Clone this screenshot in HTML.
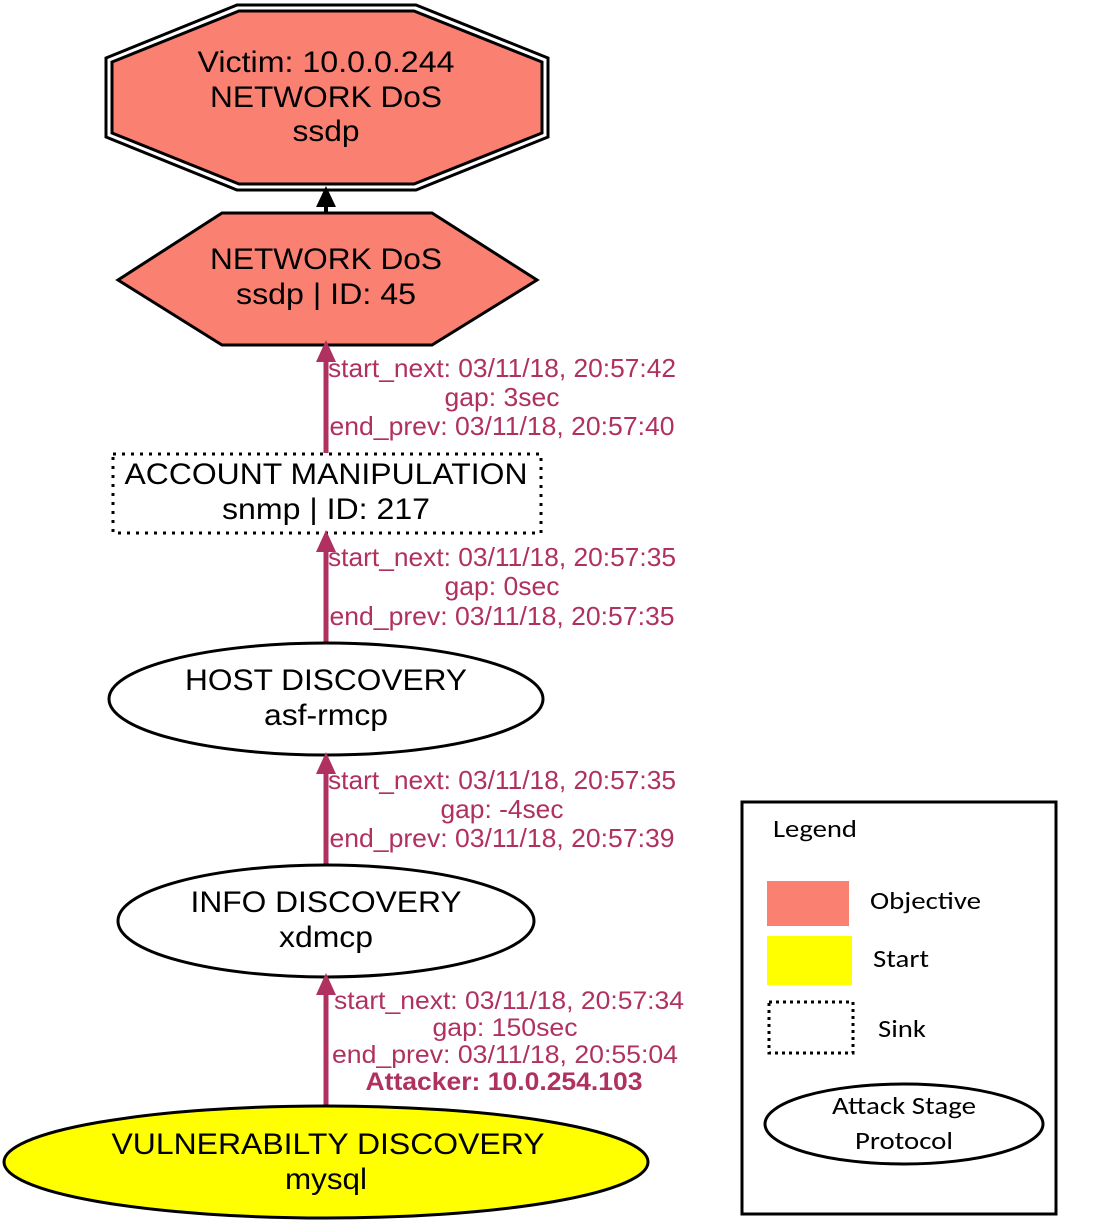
<!DOCTYPE html>
<html><head><meta charset="utf-8"><style>
html,body{margin:0;padding:0;background:#fff;}
svg{display:block;}
.n{font-family:"Liberation Sans",sans-serif;font-size:30px;fill:#000;text-anchor:middle;}
.e{font-family:"Liberation Sans",sans-serif;font-size:26px;fill:#b03060;text-anchor:middle;}
.e2{font-family:"Liberation Sans",sans-serif;font-size:25px;fill:#b03060;text-anchor:middle;}
.l{font-family:"Carlito","Liberation Sans",sans-serif;font-size:25px;fill:#000;}
</style></head><body>
<svg width="1097" height="1226" viewBox="0 0 1097 1226" xmlns="http://www.w3.org/2000/svg">
<polygon points="237,5 416,5 548,58 548,137 416,190 237,190 106,137 106,58" fill="#fff" stroke="#000" stroke-width="3"/>
<polygon points="239,11 414,11 542,62 542,133 414,184 239,184 112,133 112,62" fill="#fa8072" stroke="#000" stroke-width="3"/>
<text class="n" x="326" y="72" textLength="257" lengthAdjust="spacingAndGlyphs">Victim: 10.0.0.244</text>
<text class="n" x="326" y="107" textLength="232" lengthAdjust="spacingAndGlyphs">NETWORK DoS</text>
<text class="n" x="326" y="141" textLength="67" lengthAdjust="spacingAndGlyphs">ssdp</text>
<line x1="326" y1="213" x2="326" y2="200" stroke="#000" stroke-width="4"/>
<polygon points="316,207 336,207 326,186" fill="#000"/>
<polygon points="118,280 222,213 432,213 537,280 432,345 222,345" fill="#fa8072" stroke="#000" stroke-width="3"/>
<text class="n" x="326" y="269" textLength="232" lengthAdjust="spacingAndGlyphs">NETWORK DoS</text>
<text class="n" x="326" y="304" textLength="180" lengthAdjust="spacingAndGlyphs">ssdp | ID: 45</text>
<line x1="326" y1="453" x2="326" y2="355" stroke="#b03060" stroke-width="5"/>
<polygon points="316,362 336,362 326,340" fill="#b03060"/>
<text class="e" x="502" y="377" textLength="348" lengthAdjust="spacingAndGlyphs">start_next: 03/11/18, 20:57:42</text>
<text class="e" x="502" y="406" textLength="115" lengthAdjust="spacingAndGlyphs">gap: 3sec</text>
<text class="e" x="502" y="435" textLength="345" lengthAdjust="spacingAndGlyphs">end_prev: 03/11/18, 20:57:40</text>
<rect x="113" y="454" width="428" height="79" fill="#fff" stroke="#000" stroke-width="3" stroke-dasharray="3,6"/>
<text class="n" x="326" y="484" textLength="403" lengthAdjust="spacingAndGlyphs">ACCOUNT MANIPULATION</text>
<text class="n" x="326" y="519" textLength="208" lengthAdjust="spacingAndGlyphs">snmp | ID: 217</text>
<line x1="326" y1="642" x2="326" y2="545" stroke="#b03060" stroke-width="5"/>
<polygon points="316,552 336,552 326,530" fill="#b03060"/>
<text class="e" x="502" y="566" textLength="348" lengthAdjust="spacingAndGlyphs">start_next: 03/11/18, 20:57:35</text>
<text class="e" x="502" y="595" textLength="115" lengthAdjust="spacingAndGlyphs">gap: 0sec</text>
<text class="e" x="502" y="625" textLength="345" lengthAdjust="spacingAndGlyphs">end_prev: 03/11/18, 20:57:35</text>
<ellipse cx="326" cy="699" rx="217" ry="56" fill="#fff" stroke="#000" stroke-width="3"/>
<text class="n" x="326" y="690" textLength="282" lengthAdjust="spacingAndGlyphs">HOST DISCOVERY</text>
<text class="n" x="326" y="725" textLength="124" lengthAdjust="spacingAndGlyphs">asf-rmcp</text>
<line x1="326" y1="866" x2="326" y2="767" stroke="#b03060" stroke-width="5"/>
<polygon points="316,774 336,774 326,752" fill="#b03060"/>
<text class="e" x="502" y="789" textLength="348" lengthAdjust="spacingAndGlyphs">start_next: 03/11/18, 20:57:35</text>
<text class="e" x="502" y="818" textLength="123" lengthAdjust="spacingAndGlyphs">gap: -4sec</text>
<text class="e" x="502" y="847" textLength="345" lengthAdjust="spacingAndGlyphs">end_prev: 03/11/18, 20:57:39</text>
<ellipse cx="326" cy="921" rx="208" ry="56" fill="#fff" stroke="#000" stroke-width="3"/>
<text class="n" x="326" y="912" textLength="271" lengthAdjust="spacingAndGlyphs">INFO DISCOVERY</text>
<text class="n" x="326" y="947" textLength="94" lengthAdjust="spacingAndGlyphs">xdmcp</text>
<line x1="326" y1="1107" x2="326" y2="988" stroke="#b03060" stroke-width="5"/>
<polygon points="316,995 336,995 326,973" fill="#b03060"/>
<text class="e2" x="509" y="1009" textLength="350" lengthAdjust="spacingAndGlyphs">start_next: 03/11/18, 20:57:34</text>
<text class="e2" x="505" y="1036" textLength="145" lengthAdjust="spacingAndGlyphs">gap: 150sec</text>
<text class="e2" x="505" y="1063" textLength="346" lengthAdjust="spacingAndGlyphs">end_prev: 03/11/18, 20:55:04</text>
<text class="e2" x="504" y="1090" font-weight="bold" textLength="277" lengthAdjust="spacingAndGlyphs">Attacker: 10.0.254.103</text>
<ellipse cx="326" cy="1162" rx="322" ry="56" fill="#ffff00" stroke="#000" stroke-width="3"/>
<text class="n" x="328" y="1154" textLength="433" lengthAdjust="spacingAndGlyphs">VULNERABILTY DISCOVERY</text>
<text class="n" x="326" y="1189" textLength="82" lengthAdjust="spacingAndGlyphs">mysql</text>
<rect x="742" y="802" width="314" height="412" fill="#fff" stroke="#000" stroke-width="3"/>
<text class="l" x="773" y="837" textLength="84" lengthAdjust="spacingAndGlyphs">Legend</text>
<rect x="767" y="881" width="82" height="45" fill="#fa8072"/>
<text class="l" x="870" y="909" textLength="111" lengthAdjust="spacingAndGlyphs">Objective</text>
<rect x="767" y="936" width="85" height="49" fill="#ffff00"/>
<text class="l" x="873" y="967" textLength="56" lengthAdjust="spacingAndGlyphs">Start</text>
<rect x="769" y="1002" width="84" height="51" fill="none" stroke="#000" stroke-width="3" stroke-dasharray="3,4"/>
<text class="l" x="878" y="1037" textLength="48" lengthAdjust="spacingAndGlyphs">Sink</text>
<ellipse cx="904" cy="1124" rx="139" ry="40" fill="#fff" stroke="#000" stroke-width="3"/>
<text class="l" x="904" y="1114" text-anchor="middle" textLength="144" lengthAdjust="spacingAndGlyphs">Attack Stage</text>
<text class="l" x="904" y="1149" text-anchor="middle" textLength="98" lengthAdjust="spacingAndGlyphs">Protocol</text>
</svg>
</body></html>
